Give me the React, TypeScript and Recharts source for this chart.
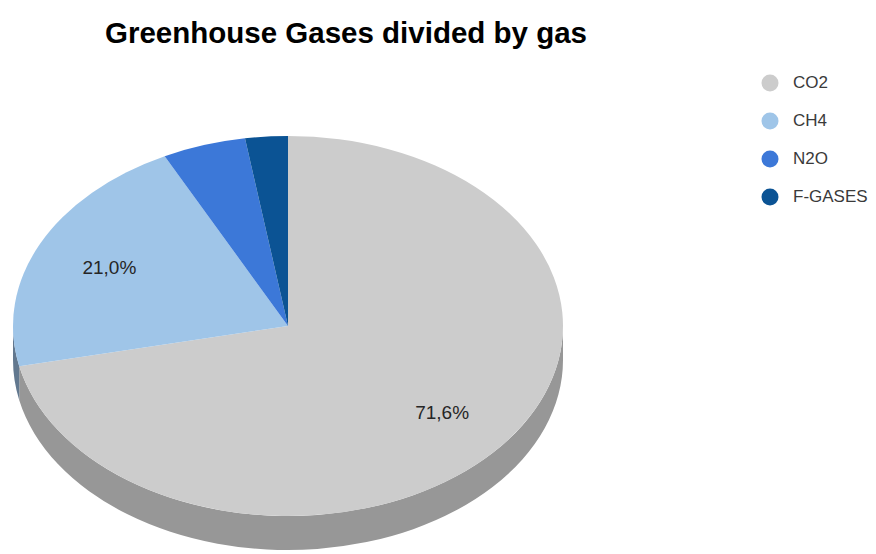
import React from 'react';
import { PieChart, Pie, Cell, Legend } from 'recharts';

const gases = ['CO2', 'CH4', 'N2O', 'F-GASES'];
const shares = [71.6, 21.0, 4.9, 2.5];
const sliceLabels = ['71,6%', '21,0%', '', ''];
const topColors = ['#cccccc', '#9fc5e8', '#3c78d8', '#0b5394'];
const sideColors = ['#979797', '#62788f', '#2a559a', '#083a68'];

const data = gases.map((name, i) => ({ name, value: shares[i] }));

const TILT = 190 / 275;
const DEPTH = 34;
const RAD = Math.PI / 180;
const FONT = "Arial, 'Liberation Sans', sans-serif";

const renderSlice = (props: any) => {
  const { cx, cy, outerRadius, startAngle, endAngle, index } = props;
  const rx = outerRadius;
  const ry = outerRadius * TILT;
  const pt = (a: number, dy = 0) => `${cx + rx * Math.cos(a * RAD)},${cy - ry * Math.sin(a * RAD) + dy}`;
  const hi = Math.max(startAngle, endAngle);
  const lo = Math.min(startAngle, endAngle);
  const large = hi - lo > 180 ? 1 : 0;
  const top = `M${cx},${cy} L${pt(hi)} A${rx},${ry} 0 ${large} 1 ${pt(lo)} Z`;
  // front wall: angles in [-180, 0]
  const a2 = Math.min(hi, 0);
  const a1 = Math.max(lo, -180);
  let wall: string | null = null;
  if (a2 > a1) {
    wall = `M${pt(a2)} A${rx},${ry} 0 0 1 ${pt(a1)} L${pt(a1, DEPTH)} A${rx},${ry} 0 0 0 ${pt(a2, DEPTH)} Z`;
  }
  const mid = (startAngle + endAngle) / 2;
  const lx = cx + 0.72 * rx * Math.cos(mid * RAD);
  const ly = cy - 0.72 * ry * Math.sin(mid * RAD);
  const txt = sliceLabels[index];
  return (
    <g key={`slice-${index}`}>
      {wall && <path d={wall} fill={sideColors[index]} stroke="none" />}
      <path d={top} fill={topColors[index]} stroke="none" />
      {txt && (
        <text x={lx} y={ly + 1} textAnchor="middle" dominantBaseline="central" fontFamily={FONT} fontSize={19} fill="#262626">
          {txt}
        </text>
      )}
    </g>
  );
};

const renderLegend = (props: any) => {
  const payload = [...(props.payload || [])].sort(
    (a: any, b: any) => gases.indexOf(a.value) - gases.indexOf(b.value)
  );
  return (
    <div>
      {payload.map((e: any, i: number) => (
        <div key={i} style={{ display: 'flex', alignItems: 'center', height: 38 }}>
          <svg width={18} height={18} style={{ flex: 'none' }}>
            <circle cx={9} cy={9} r={8.5} fill={e.color} />
          </svg>
          <span style={{ marginLeft: 14, fontFamily: FONT, fontSize: 17, color: '#3a3a3a' }}>{e.value}</span>
        </div>
      ))}
    </div>
  );
};

export default function App() {
  return (
    <div style={{ position: 'fixed', left: 0, top: 0, width: 876, height: 554, background: '#ffffff' }}>
      <PieChart width={876} height={554} margin={{ top: 0, right: 0, bottom: 0, left: 0 }}>
        <text x={346} y={43} textAnchor="middle" fontFamily={FONT} fontWeight="bold" fontSize={29.5} fill="#000000">
          Greenhouse Gases divided by gas
        </text>
        <Pie
          data={data}
          dataKey="value"
          nameKey="name"
          cx={288}
          cy={326}
          outerRadius={275}
          startAngle={90}
          endAngle={-270}
          fillOpacity={0}
          stroke="none"
          label={renderSlice}
          labelLine={false}
          isAnimationActive={false}
        >
          {data.map((d, i) => (
            <Cell key={d.name} fill={topColors[i]} />
          ))}
        </Pie>
        <Legend
          layout="vertical"
          align="right"
          verticalAlign="top"
          content={renderLegend}
          wrapperStyle={{ position: 'absolute', left: 761, top: 64, width: 115 }}
        />
      </PieChart>
    </div>
  );
}
